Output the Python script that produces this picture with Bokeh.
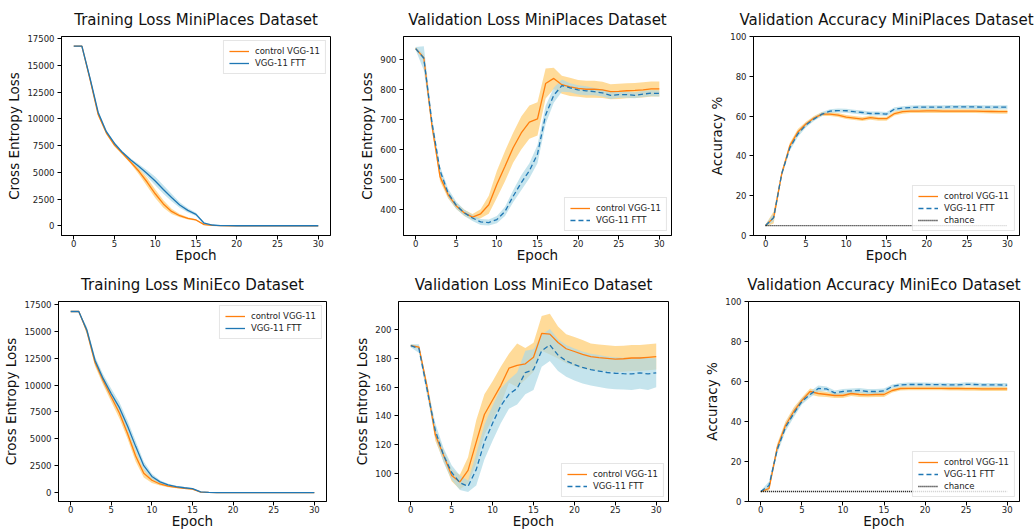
from bokeh.plotting import figure
from bokeh.layouts import column, row
from bokeh.models import Range1d, FixedTicker, Legend, LegendItem
from bokeh.embed import file_html
from bokeh.resources import INLINE

epochs = list(range(31))

# --- Training Loss MiniPlaces ---
tlp_ctrl = [16800, 16800, 13700, 10400, 8700, 7550, 6750, 5950, 5100, 4100, 3000, 2050, 1350, 950, 700, 550,
            120, 40, 20, 10, 5, 5, 5, 5, 5, 5, 5, 5, 5, 5, 5]
tlp_ctrl_sd = [0, 0, 200, 150, 150, 120, 120, 150, 300, 400, 400, 350, 250, 150, 100, 80,
               50, 20, 10, 5, 5, 5, 5, 5, 5, 5, 5, 5, 5, 5, 5]
tlp_ftt = [16800, 16800, 13800, 10600, 8800, 7700, 6850, 6150, 5550, 4900, 4200, 3400, 2650, 1950, 1450, 1080,
           250, 80, 30, 15, 10, 10, 10, 10, 10, 10, 10, 10, 10, 10, 10]
tlp_ftt_sd = [0, 0, 150, 150, 150, 120, 120, 150, 200, 300, 400, 400, 350, 250, 200, 150,
              80, 30, 10, 5, 5, 5, 5, 5, 5, 5, 5, 5, 5, 5, 5]

# --- Validation Loss MiniPlaces ---
vlp_ctrl = [935, 905, 680, 510, 450, 413, 390, 376, 387, 417, 485, 545, 606, 655, 691, 702,
            819, 836, 815, 808, 803, 800, 800, 798, 792, 793, 795, 796, 798, 801, 801]
vlp_ctrl_sd = [5, 10, 15, 15, 12, 10, 10, 10, 15, 30, 45, 50, 50, 55, 55, 55,
               50, 35, 30, 30, 28, 28, 28, 27, 25, 25, 25, 25, 25, 25, 25]
vlp_ftt = [935, 903, 690, 530, 455, 415, 390, 373, 360, 358, 368, 395, 445, 490, 530, 585,
           715, 780, 812, 805, 798, 795, 792, 788, 780, 782, 782, 780, 784, 787, 786]
vlp_ftt_sd = [5, 40, 20, 15, 15, 12, 10, 10, 10, 10, 12, 15, 20, 25, 25, 30,
              30, 25, 20, 15, 15, 15, 12, 12, 12, 10, 10, 10, 10, 10, 10]

# --- Validation Accuracy MiniPlaces ---
vap_ctrl = [5, 9, 31, 45, 52, 56, 59, 61, 61, 60.5, 59.5, 59, 58.5, 59.2, 58.7, 58.7,
            61.3, 62.2, 62.5, 62.5, 62.6, 62.6, 62.5, 62.5, 62.5, 62.5, 62.5, 62.4, 62.3, 62.2, 62.2]
vap_ctrl_sd = [0.5, 3, 1.5, 1.5, 1.5, 1.2, 1, 1, 1, 1, 1, 1, 1, 1, 1, 1,
               1, 1, 1, 1, 1, 1, 1, 1, 1, 1, 1, 1, 1, 1, 1]
vap_ftt = [5, 9, 31, 44, 51, 55.5, 58.5, 61, 62.5, 62.8, 62.7, 62.2, 61.8, 61.3, 61.3, 61,
           63.5, 64, 64.3, 64.5, 64.5, 64.5, 64.5, 64.6, 64.6, 64.6, 64.6, 64.5, 64.5, 64.5, 64.5]
vap_ftt_sd = [0.5, 2, 1.5, 1.5, 1.5, 1.2, 1, 1, 1, 1, 1, 1, 1, 1, 1, 1,
              1, 1, 1, 1, 1, 1, 1, 1, 1, 1, 1, 1, 1, 1, 1]

# --- Training Loss MiniEco ---
tle_ctrl = [16850, 16850, 15000, 12100, 10400, 8900, 7400, 5500, 3400, 1800, 1150, 800, 600, 480, 400, 320,
            50, 10, 5, 5, 5, 5, 5, 5, 5, 5, 5, 5, 5, 5, 5]
tle_ctrl_sd = [0, 0, 300, 350, 400, 450, 500, 500, 500, 400, 250, 150, 100, 80, 60, 50,
               20, 5, 5, 5, 5, 5, 5, 5, 5, 5, 5, 5, 5, 5, 5]
tle_ftt = [16850, 16850, 15100, 12300, 10600, 9200, 7900, 6200, 4300, 2500, 1500, 1000, 720, 560, 450, 360,
           60, 10, 5, 5, 5, 5, 5, 5, 5, 5, 5, 5, 5, 5, 5]
tle_ftt_sd = [0, 0, 300, 350, 400, 450, 500, 500, 500, 400, 250, 150, 100, 80, 60, 50,
              20, 5, 5, 5, 5, 5, 5, 5, 5, 5, 5, 5, 5, 5, 5]

# --- Validation Loss MiniEco ---
vle_ctrl = [188.5, 187.5, 160, 127, 113, 99, 94.5, 102.5, 122, 141, 151, 161, 173, 175, 176, 180.5,
            197, 196.5, 190.7, 186.4, 184.5, 182.5, 181, 180.3, 179.8, 179.3, 179.5, 180, 180, 180.5, 181]
vle_ctrl_sd = [1, 1, 3, 4, 4, 4, 5, 9, 15, 14, 13, 13, 10, 15, 11, 10,
               12, 14, 11, 10, 10, 10, 9, 9, 9, 9, 9, 9, 9, 9, 9]
vle_ftt = [188.5, 186.5, 158, 130, 113, 101, 94, 91.5, 103, 122, 135, 147, 155, 159, 170, 172,
           185, 189, 182, 178, 175.5, 173.5, 172, 171, 170, 169.5, 169.2, 169, 169.8, 169, 169.8]
vle_ftt_sd = [1, 3, 4, 5, 5, 5, 5, 4, 11, 12, 12, 12, 10, 11, 15, 14,
              11, 11, 11, 11, 11, 11, 11, 11, 11, 11, 11, 11, 11, 11, 10]

# --- Validation Accuracy MiniEco ---
vae_ctrl = [5, 6.5, 27, 38, 45, 50.5, 55, 54, 53.5, 53, 53, 54, 53.5, 53.3, 53.5, 53.5,
            55.5, 56.5, 56.6, 56.6, 56.6, 56.6, 56.6, 56.5, 56.5, 56.4, 56.4, 56.3, 56.3, 56.3, 56.3]
vae_ctrl_sd = [0.5, 1, 2, 2, 2, 1.5, 1.5, 1.5, 1.2, 1.2, 1.2, 1.2, 1.2, 1.2, 1.2, 1.2,
               1, 1, 1, 1, 1, 1, 1, 1, 1, 1, 1, 1, 1, 1, 1]
vae_ftt = [5, 8, 26, 37, 44, 50, 53.5, 56.5, 56.3, 54.3, 55, 55.3, 55.5, 55, 55, 55.3,
           57.5, 58.3, 58.5, 58.5, 58.5, 58.4, 58.4, 58.3, 58.3, 58.6, 58.5, 58.3, 58.3, 58.3, 58.2]
vae_ftt_sd = [0.5, 2, 2, 2, 2, 1.5, 1.5, 1.5, 1.2, 1.2, 1.2, 1.2, 1.2, 1.2, 1.2, 1.2,
              1, 1, 1, 1, 1, 1, 1, 1, 1, 1, 1, 1, 1, 1, 1]

chance = [5] * 31
x_ticks = [0, 5, 10, 15, 20, 25, 30]
x_label = "Epoch"

FONT = "DejaVu Sans"
ORANGE = "#ff7f0e"
BLUE = "#1f77b4"


def panel(title, ylabel, ctrl, ctrl_sd, ftt, ftt_sd, yr, yticks, loc, dashed, acc,
          w, h, bl, br, bt, bb):
    p = figure(width=w, height=h, x_range=Range1d(-1.5, 31.5), y_range=Range1d(*yr),
               output_backend="svg", toolbar_location=None,
               min_border_left=bl, min_border_right=br, min_border_top=bt, min_border_bottom=bb)
    p.title.text = title
    p.title.align = "center"
    p.title.offset = -4
    p.title.text_font = FONT
    p.title.text_font_size = "15px"
    p.title.text_font_style = "normal"
    p.title.text_color = "#111111"
    p.title.standoff = 16
    p.xgrid.visible = False
    p.ygrid.visible = False
    p.outline_line_color = "black"
    p.outline_line_width = 1
    for ax in (p.xaxis[0], p.yaxis[0]):
        ax.major_label_text_font = FONT
        ax.major_label_text_font_size = "8.5px"
        ax.major_label_text_color = "#222222"
        ax.axis_label_text_font = FONT
        ax.axis_label_text_font_size = "13.5px"
        ax.axis_label_text_font_style = "normal"
        ax.axis_label_text_color = "#111111"
        ax.minor_tick_line_color = None
        ax.major_tick_in = 0
        ax.major_tick_out = 4
        ax.major_label_standoff = 3
        ax.axis_label_standoff = 2
        ax.axis_line_color = "black"
    xa = p.xaxis[0]
    xa.ticker = FixedTicker(ticks=x_ticks)
    xa.axis_label = x_label
    xa.axis_label_standoff = -3
    xa.major_label_standoff = 0
    xa.major_label_text_line_height = 1.0
    xa.axis_label_text_line_height = 1.0
    p.yaxis[0].ticker = FixedTicker(ticks=yticks)
    p.yaxis[0].axis_label = ylabel

    clo = [m - s for m, s in zip(ctrl, ctrl_sd)]
    chi = [m + s for m, s in zip(ctrl, ctrl_sd)]
    flo = [m - s for m, s in zip(ftt, ftt_sd)]
    fhi = [m + s for m, s in zip(ftt, ftt_sd)]
    p.varea(x=epochs, y1=clo, y2=chi, fill_color="#FFA500", fill_alpha=0.4)
    p.varea(x=epochs, y1=flo, y2=fhi, fill_color="#ADD8E6", fill_alpha=0.7)
    r1 = p.line(epochs, ctrl, line_color=ORANGE, line_width=1.3)
    r2 = p.line(epochs, ftt, line_color=BLUE, line_width=1.3,
                line_dash="5 3" if dashed else "solid")
    items = [LegendItem(label="control VGG-11", renderers=[r1]),
             LegendItem(label="VGG-11 FTT", renderers=[r2])]
    if acc:
        r3 = p.line(epochs, chance, line_color="black", line_width=1.3, line_dash="1 1")
        items.append(LegendItem(label="chance", renderers=[r3]))
    leg = Legend(items=items, location=loc)
    leg.label_text_font = FONT
    leg.label_text_font_size = "8.5px"
    leg.label_text_color = "#222222"
    leg.label_height = 10
    leg.glyph_height = 10
    leg.glyph_width = 20
    leg.label_standoff = 6
    leg.spacing = 2
    leg.padding = 5
    leg.margin = 4
    leg.border_line_color = "#cccccc"
    leg.border_line_width = 1
    leg.background_fill_alpha = 0.8
    p.add_layout(leg)
    return p


p1 = panel("Training Loss MiniPlaces Dataset", "Cross Entropy Loss", tlp_ctrl, tlp_ctrl_sd, tlp_ftt, tlp_ftt_sd,
           (-900, 17700), [0, 2500, 5000, 7500, 10000, 12500, 15000, 17500], "top_right", False, False,
           345, 265, 61, 15, 34, 30)
p2 = panel("Validation Loss MiniPlaces Dataset", "Cross Entropy Loss", vlp_ctrl, vlp_ctrl_sd, vlp_ftt, vlp_ftt_sd,
           (315, 975), [400, 500, 600, 700, 800, 900], "bottom_right", True, False,
           345, 265, 58, 19, 34, 30)
p3 = panel("Validation Accuracy MiniPlaces Dataset", "Accuracy %", vap_ctrl, vap_ctrl_sd, vap_ftt, vap_ftt_sd,
           (0, 100), [0, 20, 40, 60, 80, 100], "bottom_right", True, True,
           344, 265, 63, 15, 34, 30)
p4 = panel("Training Loss MiniEco Dataset", "Cross Entropy Loss", tle_ctrl, tle_ctrl_sd, tle_ftt, tle_ftt_sd,
           (-830, 17780), [0, 2500, 5000, 7500, 10000, 12500, 15000, 17500], "top_right", False, False,
           345, 266, 58, 19, 35, 29)
p5 = panel("Validation Loss MiniEco Dataset", "Cross Entropy Loss", vle_ctrl, vle_ctrl_sd, vle_ftt, vle_ftt_sd,
           (81, 219), [100, 120, 140, 160, 180, 200], "bottom_right", True, False,
           345, 266, 53, 22, 35, 29)
p6 = panel("Validation Accuracy MiniEco Dataset", "Accuracy %", vae_ctrl, vae_ctrl_sd, vae_ftt, vae_ftt_sd,
           (0, 100), [0, 20, 40, 60, 80, 100], "bottom_right", True, True,
           344, 266, 58, 15, 35, 29)

layout = column(row(p1, p2, p3, spacing=0), row(p4, p5, p6, spacing=0), spacing=0)
open("out.html", "w").write(file_html(layout, INLINE))
